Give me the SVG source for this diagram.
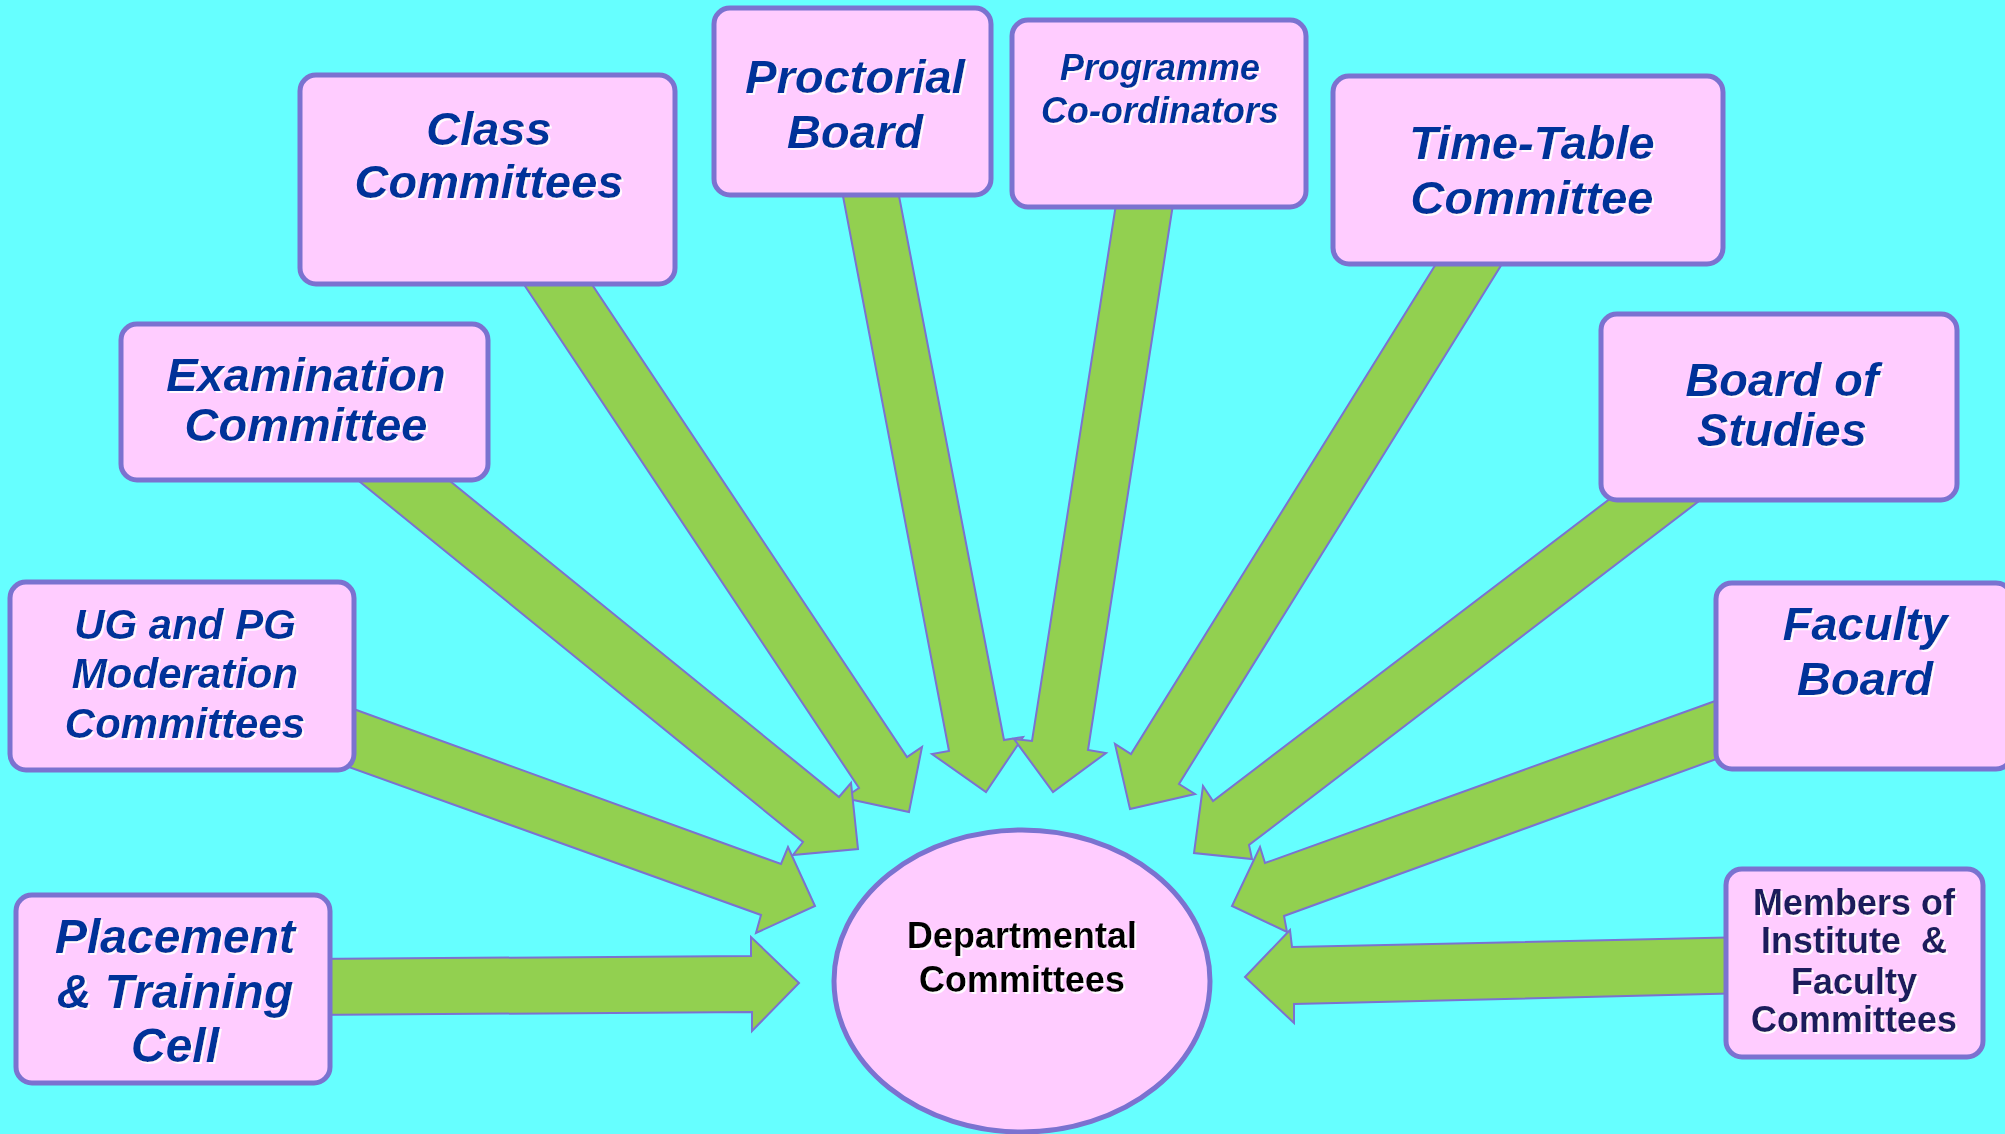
<svg xmlns="http://www.w3.org/2000/svg" width="2005" height="1134" viewBox="0 0 2005 1134">
<defs>
<filter id="sh" x="-10%" y="-10%" width="120%" height="130%">
<feDropShadow dx="2" dy="2" stdDeviation="0.6" flood-color="#ffffff" flood-opacity="0.9"/>
</filter>
<style>
.arrow{fill:#92d050;stroke:#7b72d0;stroke-width:2;stroke-linejoin:miter}
.box{fill:#ffccff;stroke:#7b72d0;stroke-width:5}
.t{font-family:"Liberation Sans",Arial,sans-serif;font-weight:bold;font-style:italic;fill:#003399;text-anchor:middle;filter:url(#sh)}
.m{font-family:"Liberation Sans",Arial,sans-serif;font-weight:bold;fill:#1c1c5c;text-anchor:middle;filter:url(#sh);white-space:pre}
.c{font-family:"Liberation Sans",Arial,sans-serif;font-weight:bold;fill:#000000;text-anchor:middle;filter:url(#sh)}
</style>
</defs>
<rect x="0" y="0" width="2005" height="1134" fill="#66ffff"/>
<g id="connectors">
<polygon class="arrow" points="507,259 859,788 844,798 909,812 922,747 907,757 575,259"/>
<polygon class="arrow" points="429,464 839,797 851,783 858,849 793,855 803,842 338,464"/>
<polygon class="arrow" points="326,699 781,864 788,847 815,906 756,933 761,915 321,757"/>
<polygon class="arrow" points="305,959 751,956 751,937 799,983 752,1031 752,1012 305,1015"/>
<polygon class="arrow" points="838,170 949,751 932,754 986,792 1023,737 1004,740 894,170"/>
<polygon class="arrow" points="1119,185 1032,741 1014,739 1053,792 1106,753 1088,750 1176,185"/>
<polygon class="arrow" points="1449,243 1131,754 1115,744 1130,809 1195,794 1179,784 1515,243"/>
<polygon class="arrow" points="1628,485 1213,801 1203,786 1194,853 1252,859 1249,845 1720,485"/>
<polygon class="arrow" points="1743,691 1265,863 1260,847 1232,906 1287,932 1284,916 1744,749"/>
<polygon class="arrow" points="1750,937 1292,947 1290,930 1245,977 1294,1023 1294,1004 1750,993"/>
</g>
<g id="departmental">
<ellipse cx="1022" cy="981" rx="188" ry="151" fill="#ffccff" stroke="#7b72d0" stroke-width="5"/>
<text class="c" x="1022" y="948" font-size="36">Departmental</text>
<text class="c" x="1022" y="992" font-size="36">Committees</text>
</g>
<g id="class-committees">
<rect class="box" x="300" y="75" width="375" height="209" rx="16"/>
<text class="t" x="489" y="145" font-size="47">Class</text>
<text class="t" x="489" y="198" font-size="47">Committees</text>
</g>
<g id="proctorial-board">
<rect class="box" x="714" y="8" width="277" height="187" rx="16"/>
<text class="t" x="855" y="93" font-size="47">Proctorial</text>
<text class="t" x="855" y="148" font-size="47">Board</text>
</g>
<g id="programme-coordinators">
<rect class="box" x="1012" y="20" width="294" height="187" rx="16"/>
<text class="t" x="1160" y="80" font-size="36">Programme</text>
<text class="t" x="1160" y="123" font-size="36">Co-ordinators</text>
</g>
<g id="time-table-committee">
<rect class="box" x="1333" y="76" width="390" height="188" rx="16"/>
<text class="t" x="1532" y="159" font-size="47">Time-Table</text>
<text class="t" x="1532" y="214" font-size="47">Committee</text>
</g>
<g id="board-of-studies">
<rect class="box" x="1601" y="314" width="356" height="186" rx="16"/>
<text class="t" x="1782" y="396" font-size="47">Board of</text>
<text class="t" x="1782" y="446" font-size="47">Studies</text>
</g>
<g id="faculty-board">
<rect class="box" x="1716" y="583" width="296" height="186" rx="16"/>
<text class="t" x="1865" y="640" font-size="47">Faculty</text>
<text class="t" x="1865" y="695" font-size="47">Board</text>
</g>
<g id="members-committees">
<rect class="box" x="1726" y="869" width="257" height="188" rx="16"/>
<text class="m" x="1854" y="915" font-size="36">Members of</text>
<text class="m" x="1854" y="953" font-size="36">Institute  &amp;</text>
<text class="m" x="1854" y="994" font-size="36">Faculty</text>
<text class="m" x="1854" y="1032" font-size="36">Committees</text>
</g>
<g id="examination-committee">
<rect class="box" x="121" y="324" width="367" height="156" rx="16"/>
<text class="t" x="306" y="391" font-size="47">Examination</text>
<text class="t" x="306" y="441" font-size="47">Committee</text>
</g>
<g id="ug-pg-moderation">
<rect class="box" x="10" y="582" width="344" height="188" rx="16"/>
<text class="t" x="185" y="639" font-size="42">UG and PG</text>
<text class="t" x="185" y="688" font-size="42">Moderation</text>
<text class="t" x="185" y="738" font-size="42">Committees</text>
</g>
<g id="placement-training">
<rect class="box" x="16" y="895" width="314" height="188" rx="16"/>
<text class="t" x="175" y="953" font-size="48">Placement</text>
<text class="t" x="175" y="1008" font-size="48">&amp; Training</text>
<text class="t" x="175" y="1062" font-size="48">Cell</text>
</g>
</svg>
